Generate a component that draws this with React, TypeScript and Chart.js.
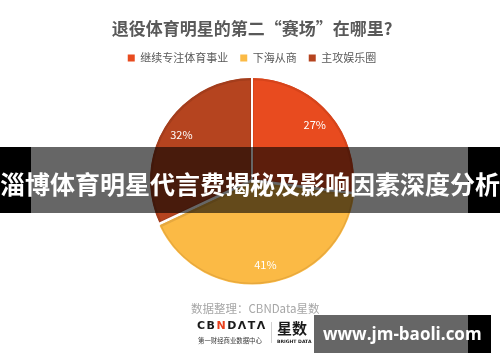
import React, { useEffect, useRef } from "react";
import { Chart, registerables } from "chart.js";

Chart.register(...registerables);

const TITLE = "退役体育明星的第二“赛场”在哪里?";
const categories = ["继续专注体育事业", "下海从商", "主攻娱乐圈"];
const shares = [27, 41, 32];
const sliceColors = ["#E84B1F", "#FBBA45", "#B5441F"];
const sliceBorders = ["#D6441B", "#E6A83E", "#A33D1C"];
const sliceOffsets = [0, 8, 0];
const BANNER = "淄博体育明星代言费揭秘及影响因素深度分析";
const SOURCE = "数据整理：CBNData星数";
const SITE = "www.jm-baoli.com";

const FONT = '"Noto Sans CJK SC", "Noto Sans", sans-serif';

const slicePlugin = {
  id: "sliceDecor",
  afterDatasetsDraw(chart: any) {
    const ctx = chart.ctx;
    const meta = chart.getDatasetMeta(0);
    ctx.save();
    ctx.strokeStyle = "#ffffff";
    ctx.lineWidth = 2;
    meta.data.forEach((arc: any) => {
      const p = arc.getProps(["x", "y", "startAngle", "outerRadius"], true);
      ctx.beginPath();
      ctx.moveTo(p.x, p.y);
      ctx.lineTo(
        p.x + Math.cos(p.startAngle) * (p.outerRadius + 3),
        p.y + Math.sin(p.startAngle) * (p.outerRadius + 3)
      );
      ctx.stroke();
    });
    ctx.font = `11px ${FONT}`;
    ctx.fillStyle = "#ffffff";
    ctx.textAlign = "center";
    ctx.textBaseline = "middle";
    meta.data.forEach((arc: any, i: number) => {
      const p = arc.getProps(["x", "y", "startAngle", "endAngle", "outerRadius"], true);
      const mid = (p.startAngle + p.endAngle) / 2;
      const r = p.outerRadius * 0.82 + sliceOffsets[i] / 4;
      ctx.fillText(shares[i] + "%", p.x + Math.cos(mid) * r, p.y + Math.sin(mid) * r);
    });
    ctx.restore();
  },
};

export default function App() {
  const ref = useRef<HTMLCanvasElement | null>(null);

  useEffect(() => {
    if (!ref.current) return;
    const chart = new Chart(ref.current, {
      type: "pie",
      data: {
        labels: categories,
        datasets: [
          {
            data: shares,
            backgroundColor: sliceColors,
            borderColor: sliceBorders,
            borderWidth: 2,
            borderAlign: "inner",
            offset: sliceOffsets,
            radius: 102,
          } as any,
        ],
      },
      options: {
        animation: false,
        responsive: false,
        devicePixelRatio: 1,
        layout: { padding: { left: 4, right: 0, top: 0, bottom: 75.6 } },
        plugins: {
          title: {
            display: true,
            text: TITLE,
            color: "#595959",
            font: { family: FONT, size: 17, weight: "bold" },
            padding: { top: 18, bottom: 2.2 },
          },
          legend: {
            position: "top",
            labels: {
              boxWidth: 7,
              boxHeight: 7,
              padding: 12,
              color: "#595959",
              font: { family: FONT, size: 11 },
              generateLabels: () =>
                categories.map((c, i) => ({
                  text: c,
                  fillStyle: sliceColors[i],
                  strokeStyle: sliceColors[i],
                  lineWidth: 0,
                  hidden: false,
                  index: i,
                  fontColor: "#595959",
                })),
            },
          },
          tooltip: { enabled: false },
        },
      } as any,
      plugins: [slicePlugin],
    });
    return () => chart.destroy();
  }, []);

  return (
    <div
      style={{
        position: "absolute",
        left: 0,
        top: 0,
        width: 500,
        height: 362,
        background: "#ffffff",
        overflow: "hidden",
        fontFamily: FONT,
      }}
    >
      <canvas ref={ref} width={500} height={362} style={{ display: "block" }} />

      <div style={{ position: "absolute", left: 0, top: 147, width: 31, height: 66, background: "#000" }} />
      <div style={{ position: "absolute", left: 31, top: 147, width: 437, height: 66, background: "rgba(0,0,0,0.6)" }} />
      <div style={{ position: "absolute", left: 468, top: 147, width: 32, height: 66, background: "#000" }} />
      <div
        style={{
          position: "absolute",
          left: 0,
          top: 150,
          width: 500,
          height: 66,
          lineHeight: "66px",
          textAlign: "center",
          color: "#ffffff",
          fontSize: 25,
          fontWeight: "bold",
          whiteSpace: "nowrap",
        }}
      >
        {BANNER}
      </div>

      <div
        style={{
          position: "absolute",
          left: 191,
          top: 299,
          fontSize: 11.5,
          lineHeight: "18px",
          color: "#a6a6a6",
          whiteSpace: "nowrap",
        }}
      >
        {SOURCE}
      </div>

      <div
        style={{
          position: "absolute",
          left: 197,
          top: 317,
          fontFamily: '"DejaVu Sans", sans-serif',
          fontSize: 11,
          fontWeight: "bold",
          letterSpacing: 1.5,
          lineHeight: "18px",
          color: "#1a1a1a",
          whiteSpace: "nowrap",
        }}
      >
        CB<span style={{ color: "#E8401C" }}>N</span>DΛTΛ
      </div>
      <div
        style={{
          position: "absolute",
          left: 198,
          top: 337,
          fontSize: 6.4,
          lineHeight: "8px",
          color: "#333",
          whiteSpace: "nowrap",
        }}
      >
        第一财经商业数据中心
      </div>
      <div style={{ position: "absolute", left: 271, top: 322, width: 1, height: 21, background: "#d0d0d0" }} />
      <div
        style={{
          position: "absolute",
          left: 277,
          top: 318,
          fontSize: 15,
          fontWeight: "bold",
          lineHeight: "20px",
          color: "#1a1a1a",
          whiteSpace: "nowrap",
        }}
      >
        星数
      </div>
      <div
        style={{
          position: "absolute",
          left: 277,
          top: 338,
          fontFamily: '"DejaVu Sans", sans-serif',
          fontSize: 4.6,
          fontWeight: "bold",
          lineHeight: "7px",
          color: "#1a1a1a",
          whiteSpace: "nowrap",
        }}
      >
        BRIGHT DATA
      </div>

      <div style={{ position: "absolute", left: 314, top: 315, width: 154, height: 38, background: "rgba(0,0,0,0.6)" }} />
      <div style={{ position: "absolute", left: 468, top: 315, width: 23, height: 38, background: "#000" }} />
      <div
        style={{
          position: "absolute",
          left: 323,
          top: 315,
          height: 38,
          lineHeight: "38px",
          fontFamily: '"Open Sans", sans-serif',
          fontSize: 17,
          fontWeight: "bold",
          color: "#ffffff",
          whiteSpace: "nowrap",
        }}
      >
        {SITE}
      </div>
    </div>
  );
}
